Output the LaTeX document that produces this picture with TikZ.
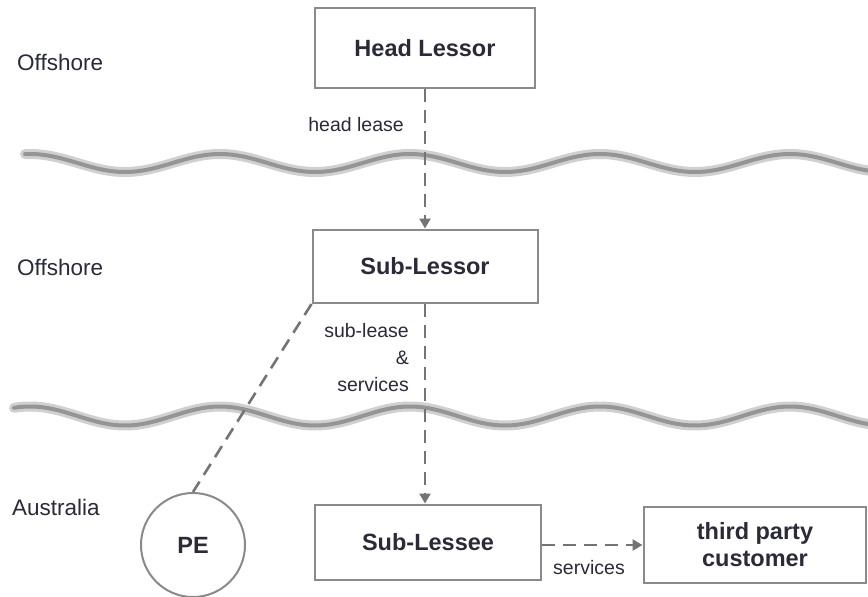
\documentclass[tikz,border=0pt]{standalone}
\usepackage{fontspec}
\setmainfont{Liberation Sans}
\usetikzlibrary{arrows.meta}
\definecolor{boxgray}{HTML}{8A8A8A}
\definecolor{linegray}{HTML}{747474}
\definecolor{textcol}{HTML}{2A2A38}
\definecolor{wavedark}{HTML}{959595}
\definecolor{wavelight}{HTML}{D0D0D0}
\begin{document}
\begin{tikzpicture}[x=1pt,y=-1pt,
  box/.style={draw=boxgray, line width=2pt, fill=white, inner sep=0pt,
    font=\fontsize{23.5}{27}\selectfont\bfseries, text=textcol, align=center},
  conn/.style={draw=linegray, line width=2.6pt, dash pattern=on 13pt off 8pt},
  arr/.style={conn, -{Triangle[width=11pt,length=10pt]}, shorten >=0.5pt},
  lbl/.style={font=\fontsize{19.5}{27}\selectfont, text=textcol, inner sep=0pt},
  region/.style={font=\fontsize{22.5}{25}\selectfont, text=textcol, inner sep=0pt, anchor=west},
  wavelo/.style={draw=wavelight, line width=10pt, line cap=round},
  wavehi/.style={draw=wavedark, line width=4pt, line cap=round}]
\useasboundingbox[fill=white] (0,0) rectangle (868,597);

% wavy borders
\foreach \yc/\amp/\xs in {163/9/25, 416/9.5/14}{
  \draw[wavelo] plot[domain=\xs:868, samples=180, smooth] (\x, {\yc-\amp*cos(1.8947*(\x-30))});
  \draw[wavehi] plot[domain=\xs:868, samples=180, smooth] (\x, {\yc-\amp*cos(1.8947*(\x-30))});
}

% region labels
\node[region] (r1) at (17,62) {Offshore};
\node[region] (r2) at (17,267) {Offshore};
\node[region] (r3) at (12,507) {Australia};

% boxes
\node[box, minimum width=220pt, minimum height=80pt] (hl) at (425,48) {Head Lessor};
\node[box, minimum width=225pt, minimum height=73pt] (sl) at (425,266.5) {Sub-Lessor};
\node[box, minimum width=226pt, minimum height=75pt] (sle) at (428,542.5) {Sub-Lessee};
\node[box, minimum width=222pt, minimum height=76pt] (tp) at (755,545) {third party\\customer};
\node[box, circle, minimum size=104pt] (pe) at (193,545) {PE};

% connectors
\draw[arr] (hl.south) -- (hl.south |- sl.north);
\draw[arr] (sl.south) -- (sl.south |- sle.north);
\draw[arr] (sle.east |- tp.west) -- (tp.west);
\draw[conn] (sl.south west) -- (pe.north);

% connector labels
\node[lbl, anchor=east] (lhl) at (404,125) {head lease};
\node[lbl, anchor=east, align=right] (lsl) at (409,358) {sub-lease\\\&\\services};
\node[lbl] (lsv) at (589,568) {services};
\end{tikzpicture}
\end{document}
